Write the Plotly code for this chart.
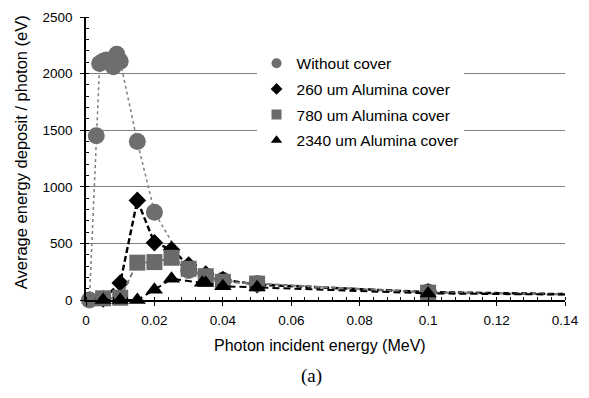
import plotly.graph_objects as go

# Photon incident energy (MeV) and average energy deposit per photon (eV)
x_none = [0.001, 0.003, 0.004, 0.005, 0.006, 0.007, 0.008, 0.009, 0.010,
          0.015, 0.020, 0.030, 0.040, 0.050, 0.100, 0.150]
y_none = [0, 1450, 2090, 2110, 2120, 2100, 2060, 2170, 2110,
          1400, 775, 260, 175, 145, 70, 48]

x_260 = [0.005, 0.010, 0.015, 0.020, 0.025, 0.030, 0.035, 0.040, 0.050, 0.100, 0.150]
y_260 = [10, 150, 880, 505, 445, 310, 230, 180, 135, 70, 48]

x_780 = [0.005, 0.010, 0.015, 0.020, 0.025, 0.030, 0.035, 0.040, 0.050, 0.100, 0.150]
y_780 = [15, 20, 330, 335, 373, 276, 210, 160, 145, 65, 46]

x_2340 = [0.005, 0.010, 0.015, 0.020, 0.025, 0.034, 0.035, 0.040, 0.050, 0.100, 0.150]
y_2340 = [0, 0, 0, 90, 188, 152, 150, 122, 112, 58, 45]

names = ["Without cover", "260 um Alumina cover",
         "780 um Alumina cover", "2340 um Alumina cover"]

x_ticks = [0, 0.02, 0.04, 0.06, 0.08, 0.1, 0.12, 0.14]
x_tick_text = ["0", "0.02", "0.04", "0.06", "0.08", "0.1", "0.12", "0.14"]
y_ticks = [0, 500, 1000, 1500, 2000, 2500]

GRAY = "#6e6e6e"
SQ_GRAY = "#6a6a6a"
FONT = "Liberation Sans, Arial, sans-serif"

fig = go.Figure()

series = [
    (x_none, y_none, names[0], dict(symbol="circle", size=17, color=GRAY),
     dict(color="#858585", width=1.6, dash="dot")),
    (x_260, y_260, names[1], dict(symbol="diamond", size=13.5, color="black"),
     dict(color="black", width=2.4, dash="6px,3px")),
    (x_780, y_780, names[2], dict(symbol="square", size=16, color=SQ_GRAY),
     dict(color="#7a7a7a", width=2, dash="5px,3px")),
    (x_2340, y_2340, names[3], dict(symbol="triangle-up", size=15, color="black"),
     dict(color="black", width=2, dash="7px,4px")),
]

for xs, ys, nm, mk, ln in series:
    fig.add_trace(go.Scatter(
        x=xs, y=ys, name=nm, mode="lines+markers",
        marker=dict(line=dict(width=0), **mk), line=ln,
        cliponaxis=False, showlegend=False))

# legend entries show the marker symbol only
legend_marks = [
    dict(symbol="circle", size=10, color=GRAY),
    dict(symbol="diamond", size=9, color="black"),
    dict(symbol="square", size=10, color=SQ_GRAY),
    dict(symbol="triangle-up", size=10, color="black"),
]
for i, (nm, mk) in enumerate(zip(names, legend_marks)):
    fig.add_trace(go.Scatter(
        x=[None], y=[None], name=nm, mode="markers", marker=mk,
        legendgroup=f"g{i}", showlegend=True))

fig.update_layout(
    width=589, height=398,
    margin=dict(l=86, r=20, t=10, b=98),
    paper_bgcolor="white", plot_bgcolor="white",
    font=dict(family=FONT, size=13, color="black"),
    showlegend=True,
    legend=dict(
        x=0.356, y=0.895, xanchor="left", yanchor="top",
        bgcolor="white", borderwidth=0,
        font=dict(family=FONT, size=15.5, color="black"),
        tracegroupgap=2.5, traceorder="grouped",
    ),
    xaxis=dict(
        range=[0, 0.14], tickvals=x_ticks, ticktext=x_tick_text,
        showgrid=False, zeroline=False,
        showline=True, linecolor="black", linewidth=1.5,
        ticks="outside", ticklen=4, tickwidth=1, tickcolor="black",
        tickfont=dict(family=FONT, size=13.5), ticklabelstandoff=3,
        minor=dict(dtick=0.004, ticks="inside", ticklen=3,
                   tickcolor="black", tickwidth=1, showgrid=False),
    ),
    yaxis=dict(
        range=[0, 2500], tickvals=y_ticks,
        showgrid=True, gridcolor="#7f7f7f", gridwidth=1.3,
        zeroline=False,
        showline=True, linecolor="black", linewidth=1.5,
        ticks="outside", ticklen=4, tickwidth=1, tickcolor="black",
        tickfont=dict(family=FONT, size=13.5), ticklabelstandoff=5,
        minor=dict(dtick=100, ticks="inside", ticklen=3,
                   tickcolor="black", tickwidth=1, showgrid=False),
    ),
    annotations=[
        dict(text="Photon incident energy (MeV)", xref="paper", yref="paper",
             x=(322 - 86) / 483, y=-47 / 290, xanchor="center",
             yanchor="middle", showarrow=False,
             font=dict(family=FONT, size=16)),
        dict(text="Average energy deposit / photon (eV)", xref="paper",
             yref="paper", x=-66 / 483, y=(300 - 149) / 290, textangle=-90,
             xanchor="center", yanchor="middle", showarrow=False,
             font=dict(family=FONT, size=16.5)),
        dict(text="(a)", xref="paper", yref="paper",
             x=(313 - 86) / 483, y=-78 / 290, xanchor="center",
             yanchor="middle", showarrow=False,
             font=dict(family="Liberation Serif, Times New Roman, serif",
                       size=19)),
    ],
)

fig.write_html("out.html")
